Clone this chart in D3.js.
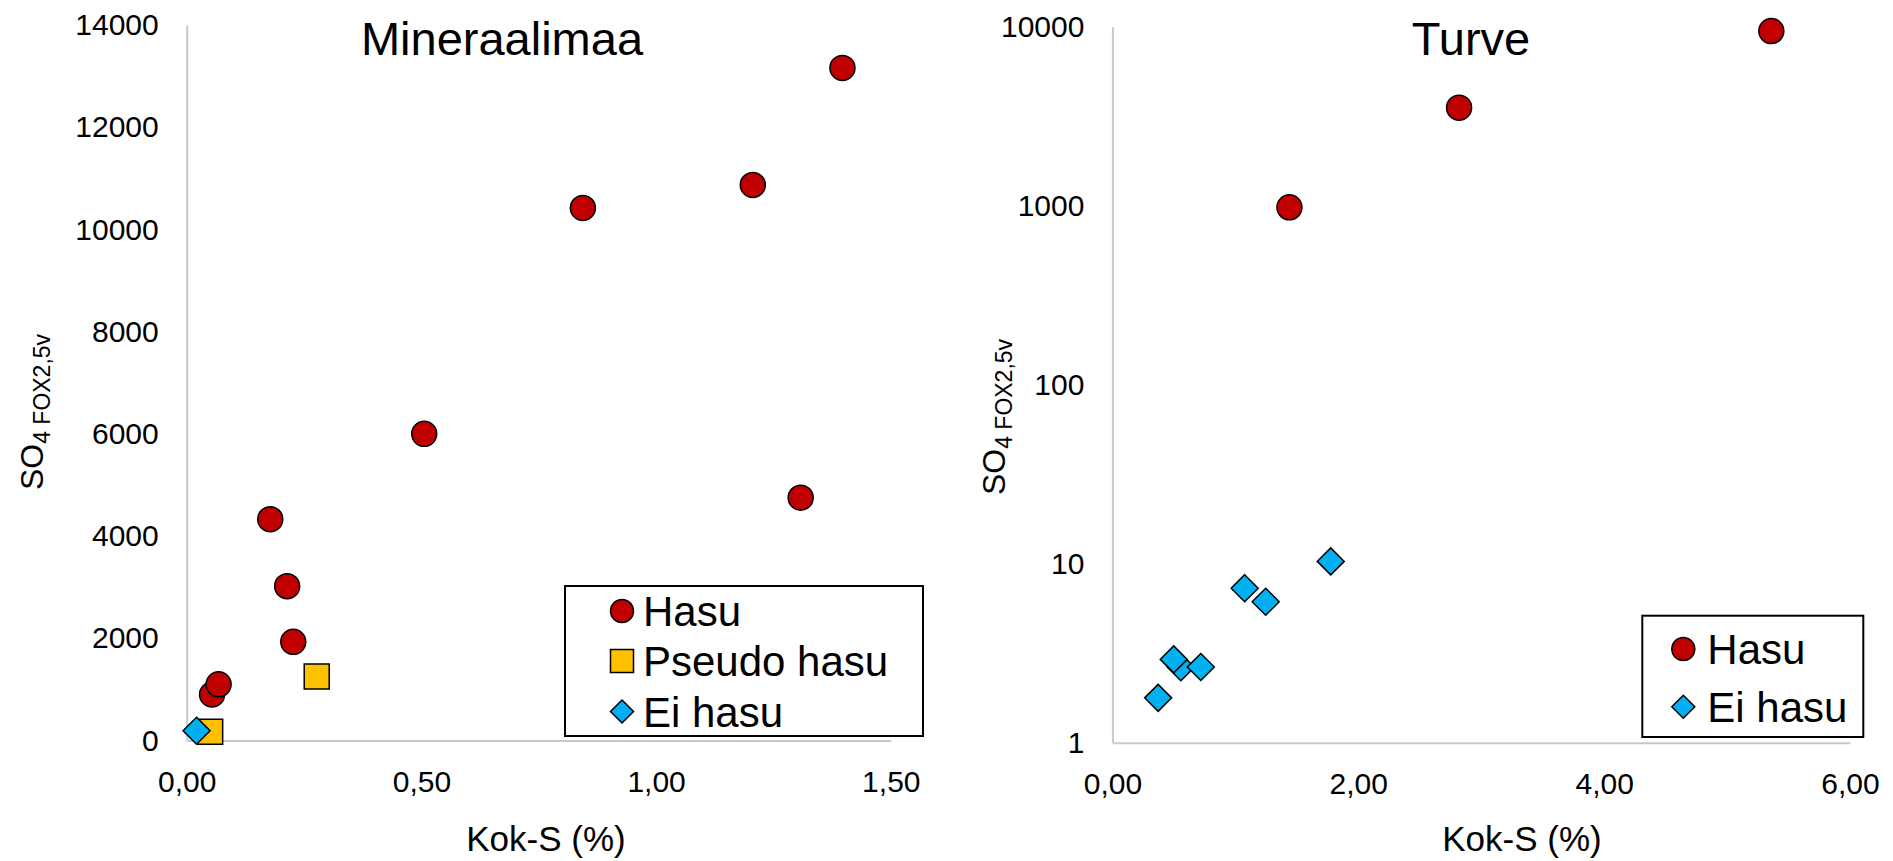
<!DOCTYPE html>
<html>
<head>
<meta charset="utf-8">
<script src="https://cdn.jsdelivr.net/npm/d3@7"></script>
<style>
  html, body { margin: 0; padding: 0; background: #fff; }
  svg { display: block; font-family: "Liberation Sans", Arial, sans-serif; }
</style>
</head>
<body>
<svg id="chart" width="1893" height="861"></svg>
<script>
// Mineraalimaa: total sulfur (%) vs SO4 FOX2,5v
const minHasuS   = [0.054, 0.068, 0.178, 0.214, 0.227, 0.506, 0.844, 1.206, 1.308, 1.397];
const minHasuSO4 = [900, 1100, 4330, 3020, 1930, 6000, 10420, 10870, 4750, 13160];
const minPseudoS   = [0.050, 0.277];
const minPseudoSO4 = [170, 1250];
const minEiS   = [0.021];
const minEiSO4 = [190];

// Turve: total sulfur (%) vs SO4 FOX2,5v (log scale)
const turHasuS   = [1.44, 2.82, 5.36];
const turHasuSO4 = [980, 3530, 9460];
const turEiS   = [0.372, 0.557, 0.499, 0.719, 1.076, 1.247, 1.776];
const turEiSO4 = [1.78, 2.64, 2.92, 2.65, 7.3, 6.13, 10.3];

// Axis ticks
const minXTicks = [0, 0.5, 1.0, 1.5];
const minYTicks = [0, 2000, 4000, 6000, 8000, 10000, 12000, 14000];
const turXTicks = [0, 2, 4, 6];
const turYTicks = [1, 10, 100, 1000, 10000];

const seriesStyle = {
  "Hasu":        { shape: "circle",  fill: "#c00000" },
  "Pseudo hasu": { shape: "square",  fill: "#ffc000" },
  "Ei hasu":     { shape: "diamond", fill: "#00b0f0" }
};

const svg = d3.select("#chart");
const fmtComma = d => d.toFixed(2).replace(".", ",");
const zip = (xs, ys) => xs.map((x, i) => ({ x, y: ys[i] }));

function markerPath(shape, size) {
  const h = size / 2;
  if (shape === "circle") {
    return `M${-h},0A${h},${h} 0 1,0 ${h},0A${h},${h} 0 1,0 ${-h},0Z`;
  }
  if (shape === "square") {
    return `M${-h},${-h}H${h}V${h}H${-h}Z`;
  }
  return `M0,${-h}L${h},0L0,${h}L${-h},0Z`;
}

function drawPanel(cfg) {
  const g = svg.append("g");
  const x = d3.scaleLinear().domain(cfg.xDomain).range([cfg.left, cfg.right]);
  const y = (cfg.log ? d3.scaleLog() : d3.scaleLinear())
    .domain(cfg.yDomain).range([cfg.bottom, cfg.top]);

  const xAxis = g.append("g")
    .attr("transform", `translate(0,${cfg.bottom})`)
    .call(d3.axisBottom(x).tickValues(cfg.xTicks).tickFormat(fmtComma)
      .tickSize(0).tickSizeOuter(0).tickPadding(30));
  const yAxis = g.append("g")
    .attr("transform", `translate(${cfg.left},0)`)
    .call(d3.axisLeft(y).tickValues(cfg.yTicks).tickFormat(d3.format("d"))
      .tickSize(0).tickSizeOuter(0).tickPadding(28));

  [xAxis, yAxis].forEach(a => {
    a.select(".domain").attr("stroke", "#c8c8c8").attr("stroke-width", 2);
    a.selectAll(".tick text")
      .attr("font-size", 30)
      .attr("fill", "#000")
      .attr("font-family", "'Liberation Sans', Arial, sans-serif");
  });

  // chart title
  g.append("text")
    .attr("x", cfg.titleX).attr("y", 55)
    .attr("text-anchor", "middle")
    .attr("font-size", 47)
    .text(cfg.title);

  // x axis title
  g.append("text")
    .attr("x", cfg.xTitleX).attr("y", 851)
    .attr("text-anchor", "middle")
    .attr("font-size", 35)
    .text("Kok-S (%)");

  // y axis title with subscript
  const yt = g.append("text")
    .attr("transform", `translate(${cfg.yTitleX},${cfg.yTitleY}) rotate(-90)`)
    .attr("text-anchor", "middle");
  yt.append("tspan").attr("font-size", 32).text("SO");
  yt.append("tspan").attr("font-size", 23).attr("dy", 7).text("4 FOX2,5v");

  // points
  cfg.series.forEach(s => {
    const st = seriesStyle[s.name];
    g.append("g").selectAll("path")
      .data(s.points)
      .join("path")
      .attr("transform", d => `translate(${x(d.x)},${y(d.y)})`)
      .attr("d", markerPath(st.shape, st.shape === "diamond" ? 27 : 25))
      .attr("fill", st.fill)
      .attr("stroke", "#000")
      .attr("stroke-width", 1.5);
  });

  // legend
  const lg = g.append("g");
  lg.append("rect")
    .attr("x", cfg.legend.x).attr("y", cfg.legend.y)
    .attr("width", cfg.legend.w).attr("height", cfg.legend.h)
    .attr("fill", "#fff").attr("stroke", "#000").attr("stroke-width", 2);
  cfg.series.forEach((s, i) => {
    const st = seriesStyle[s.name];
    const ry = cfg.legend.rowY[i];
    lg.append("path")
      .attr("transform", `translate(${cfg.legend.markerX},${ry})`)
      .attr("d", markerPath(st.shape, 23))
      .attr("fill", st.fill).attr("stroke", "#000").attr("stroke-width", 1.5);
    lg.append("text")
      .attr("x", cfg.legend.textX).attr("y", ry)
      .attr("dy", "0.36em")
      .attr("font-size", 42)
      .text(s.name);
  });
}

drawPanel({
  title: "Mineraalimaa", titleX: 502,
  left: 186.7, right: 890.8, top: 25, bottom: 740.5,
  xDomain: [0, 1.5], yDomain: [0, 14000], log: false,
  xTicks: minXTicks, yTicks: minYTicks,
  xTitleX: 546, yTitleX: 43, yTitleY: 412,
  series: [
    { name: "Hasu", points: zip(minHasuS, minHasuSO4) },
    { name: "Pseudo hasu", points: zip(minPseudoS, minPseudoSO4) },
    { name: "Ei hasu", points: zip(minEiS, minEiSO4) }
  ],
  legend: { x: 565, y: 586, w: 358, h: 150, markerX: 622, textX: 643, rowY: [611, 661, 711.5] }
});

drawPanel({
  title: "Turve", titleX: 1471,
  left: 1112.4, right: 1850, top: 26.7, bottom: 742.7,
  xDomain: [0, 6], yDomain: [1, 10000], log: true,
  xTicks: turXTicks, yTicks: turYTicks,
  xTitleX: 1522, yTitleX: 1005, yTitleY: 417,
  series: [
    { name: "Hasu", points: zip(turHasuS, turHasuSO4) },
    { name: "Ei hasu", points: zip(turEiS, turEiSO4) }
  ],
  legend: { x: 1642.3, y: 615.7, w: 221, h: 121.3, markerX: 1683.3, textX: 1707.3, rowY: [649, 706.7] }
});
</script>
</body>
</html>
